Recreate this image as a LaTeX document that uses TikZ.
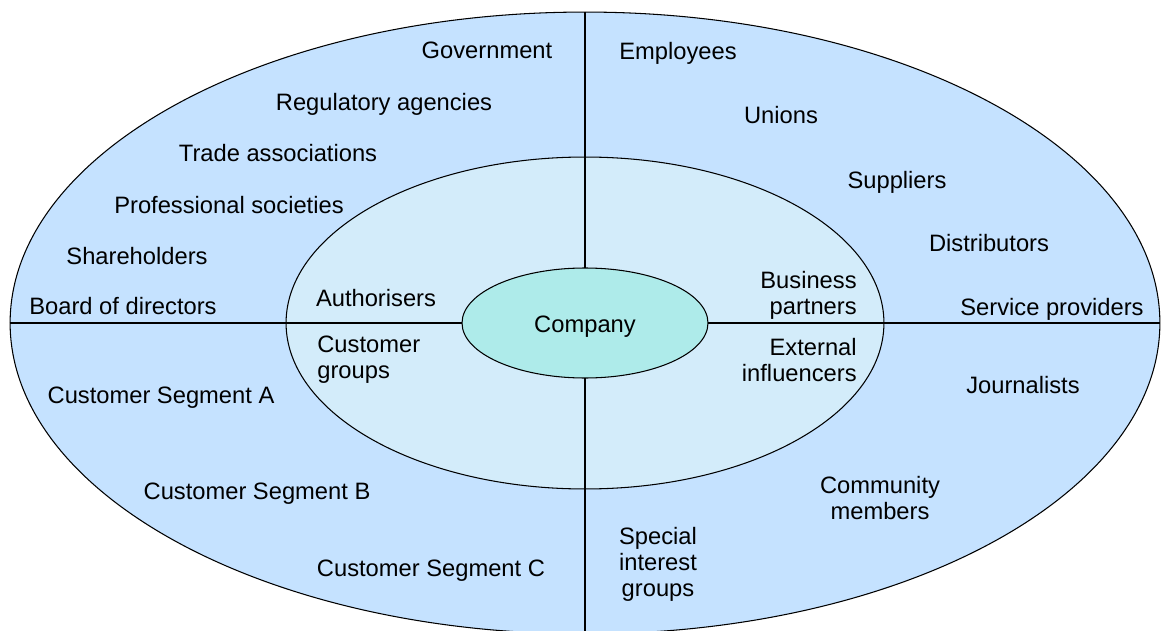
\documentclass[tikz,border=0pt]{standalone}
\usepackage{fontspec}
\setmainfont{Liberation Sans}
\usepackage{xcolor}
\usetikzlibrary{shapes.geometric,positioning}

\definecolor{outerblue}{RGB}{197,226,255}
\definecolor{midblue}{RGB}{211,236,250}
\definecolor{coreteal}{RGB}{174,235,234}

\tikzset{
    ring/.style={ellipse, draw, line width=0.6pt, inner sep=0pt},
    lbls/.style={inner sep=0pt, font=\fontsize{13.5}{14.8}\selectfont},
    lbl/.style={lbls, text height=9.7pt, text depth=0pt}
}

\begin{document}
\begin{tikzpicture}[x=0.02cm, y=0.02cm]
    \useasboundingbox (0,0) rectangle (1164,630);

    % Rings (sizes in cm: 1 px = 0.02cm)
    \node[ring, fill=outerblue, minimum width=23cm, minimum height=12.44cm] (outer) at (585,307) {};
    \node[ring, fill=midblue, minimum width=11.96cm, minimum height=6.64cm] (middle) at (585,307) {};

    % Quadrant lines
    \draw[line width=0.6pt] (outer.west) -- (outer.east);
    \draw[line width=0.6pt] (outer.north) -- (outer.south);

    % Core
    \node[ring, fill=coreteal, minimum width=4.92cm, minimum height=2.2cm] (company) at (585,307) {};
    \node[lbl] (companylbl) at (585,306) {Company};

    % Inner ring labels
    \node[lbl] (auth) at (376,332) {Authorisers};
    \node[lbls, anchor=west, align=left] (custgrp) at (317,270) {Customer\\groups};
    \node[lbls, anchor=east, align=right] (business) at (857,335) {Business\\partners};
    \node[lbls, anchor=east, align=right] (external) at (857,270) {External\\influencers};

    % Top left
    \node[lbl] (gov) at (487,580) {Government};
    \node[lbl] (reg) at (384,528) {Regulatory agencies};
    \node[lbl] (trade) at (278,477) {Trade associations};
    \node[lbl] (prof) at (229,425) {Professional societies};
    \node[lbl] (share) at (137,374) {Shareholders};
    \node[lbl] (board) at (123,324) {Board of directors};

    % Top right
    \node[lbl] (empl) at (678,579) {Employees};
    \node[lbl] (unions) at (781,515) {Unions};
    \node[lbl] (suppl) at (897,450) {Suppliers};
    \node[lbl] (distr) at (989,387) {Distributors};
    \node[lbl] (serv) at (1052,323) {Service providers};

    % Bottom right
    \node[lbl] (journ) at (1023,245) {Journalists};
    \node[lbls, align=center] (comm) at (880,132) {Community\\members};
    \node[lbls, align=center] (special) at (658,66) {Special\\interest\\groups};

    % Bottom left
    \node[lbl] (segA) at (161,235) {Customer Segment A};
    \node[lbl] (segB) at (257,139) {Customer Segment B};
    \node[lbl] (segC) at (431,62) {Customer Segment C};
\end{tikzpicture}
\end{document}
